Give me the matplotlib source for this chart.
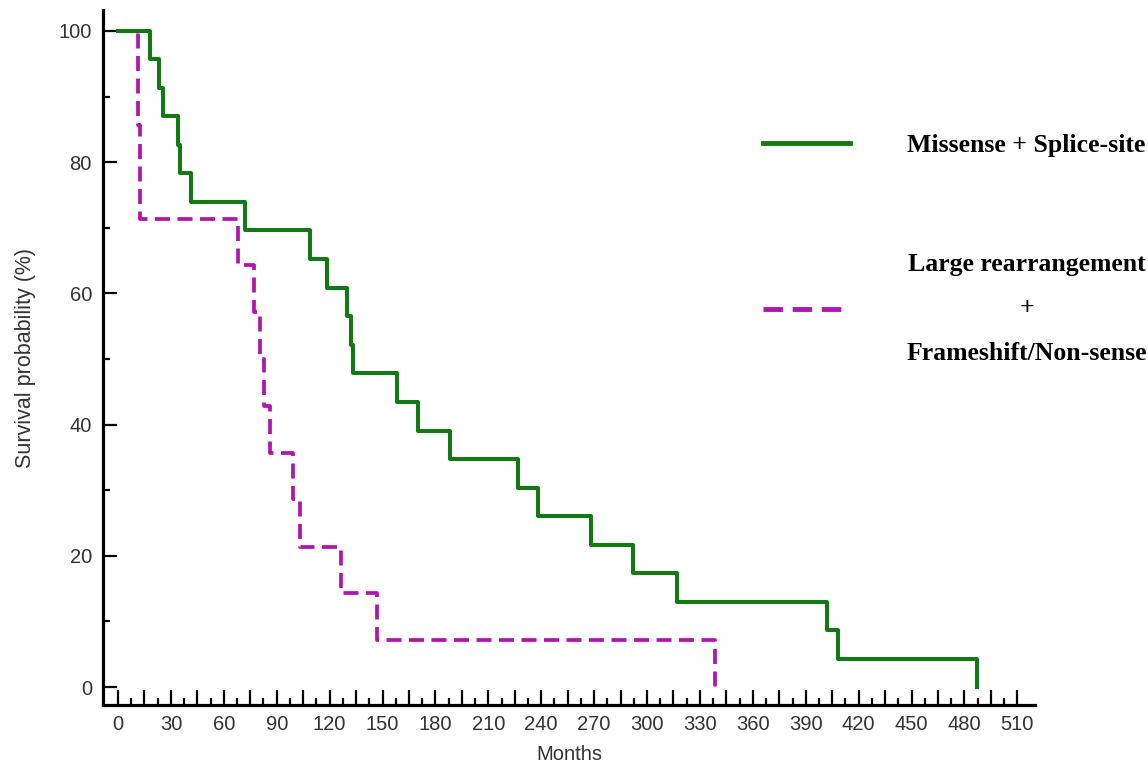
import matplotlib
matplotlib.use("Agg")
import matplotlib.pyplot as plt
from matplotlib.ticker import FixedLocator, FuncFormatter

# Kaplan-Meier steps (months, survival %)
missense_months = [0, 18, 23, 25.5, 34, 35, 41.5, 72, 109, 118.5, 130, 132, 133.5,
                   158, 170, 188, 227, 238, 268, 292, 317, 402, 408.5, 487]
missense_surv = [100, 95.7, 91.3, 87.0, 82.6, 78.3, 73.9, 69.6, 65.2, 60.9, 56.5, 52.2,
                 47.8, 43.5, 39.1, 34.8, 30.4, 26.1, 21.7, 17.4, 13.0, 8.7, 4.3, 0]

large_months = [0, 11.3, 12.5, 68, 77, 80.5, 82.8, 86.2, 99.3, 103.2, 126.5, 146.9, 338.6]
large_surv = [100, 85.7, 71.4, 64.3, 57.1, 50.0, 42.9, 35.7, 28.6, 21.4, 14.3, 7.1, 0]

labels = ["Missense + Splice-site", "Large rearrangement\n+\nFrameshift/Non-sense"]

plt.rcParams['font.family'] = ['Liberation Sans', 'DejaVu Sans']

fig = plt.figure(figsize=(11.48, 7.63), dpi=100)
ax = fig.add_axes([103 / 1148, 58 / 763, 932 / 1148, 695 / 763])

l2, = ax.step(large_months, large_surv, where='post', color='#b015b0', lw=2.7,
              dashes=(4.0, 2.0), zorder=2)
l1, = ax.step(missense_months, missense_surv, where='post', color='#127a12', lw=2.9,
              zorder=3)

ax.set_xlim(-8.5, 520)
ax.set_ylim(-2.74, 103.2)

for s in ['top', 'right']:
    ax.spines[s].set_visible(False)
for s in ['left', 'bottom']:
    ax.spines[s].set_linewidth(2.3)

# x ticks: tall every 15, short in between, labels every 30
ax.xaxis.set_major_locator(FixedLocator(list(range(0, 511, 15))))
ax.xaxis.set_minor_locator(FixedLocator([7.5 + 15 * k for k in range(34)]))
ax.xaxis.set_major_formatter(FuncFormatter(lambda v, p: f"{int(v)}" if int(v) % 30 == 0 else ""))
ax.yaxis.set_major_locator(FixedLocator(list(range(0, 101, 20))))
ax.yaxis.set_minor_locator(FixedLocator(list(range(10, 100, 20))))

ax.tick_params(axis='both', which='both', direction='in', colors='black', width=1.6,
               labelcolor='#333333', labelsize=14.5)
ax.tick_params(axis='x', which='major', length=11, pad=7)
ax.tick_params(axis='x', which='minor', length=5)
ax.tick_params(axis='y', which='major', length=10, pad=8)
ax.tick_params(axis='y', which='minor', length=5)

ax.set_xlabel("Months", fontsize=14.5, color='#333333', labelpad=8)
ax.set_ylabel("Survival probability (%)", fontsize=15.5, color='#333333', labelpad=16)

leg = ax.legend([l1, l2], labels, loc='center left', bbox_to_anchor=(740 / 1148, 1 - 249.5 / 763),
                bbox_transform=fig.transFigure, frameon=False, handlelength=3.4,
                handletextpad=2.2, labelspacing=3.73,
                prop={'family': 'Liberation Serif', 'weight': 'bold', 'size': 18.5})
for t in leg.get_texts():
    t.set_multialignment('center')
    t.set_linespacing(2.2)
leg.get_lines()[0].set_linewidth(3.5)
leg.get_lines()[1].set_linewidth(3.5)

fig.savefig("out.png", dpi=100)
